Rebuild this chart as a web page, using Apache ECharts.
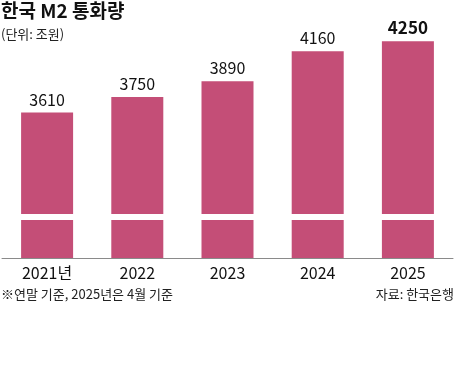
<!DOCTYPE html>
<html><head><meta charset="utf-8">
<script src="https://cdn.jsdelivr.net/npm/echarts@6/dist/echarts.min.js"></script>
<style>html,body{margin:0;padding:0;background:#fff}#c{width:456px;height:367px}</style>
</head><body><div id="c"></div>
<script>
var categories = ['2021년', '2022', '2023', '2024', '2025'];
var values = [3610, 3750, 3890, 4160, 4250];
var breakValue = 2673;
var title = '한국 M2 통화량';
var unit = '(단위: 조원)';
var note = '※연말 기준, 2025년은 4월 기준';
var source = '자료: 한국은행';

var FONT = '"Noto Sans CJK KR", "Noto Sans", sans-serif';
var chart = echarts.init(document.getElementById('c'));
chart.setOption({
  animation: false,
  textStyle: {fontFamily: FONT},
  title: [
    {text: title, left: 1, top: 1, padding: 0, textStyle: {fontSize: 19, fontWeight: 'bold', color: '#111', fontFamily: FONT}},
    {text: unit, left: 1, top: 28, padding: 0, textStyle: {fontSize: 13, fontWeight: 'normal', color: '#222', fontFamily: FONT}},
    {text: note, left: 1, top: 288, padding: 0, textStyle: {fontSize: 13, fontWeight: 'normal', color: '#222', fontFamily: FONT}},
    {text: source, right: 2, top: 288, padding: 0, textStyle: {fontSize: 13, fontWeight: 'normal', color: '#222', fontFamily: FONT}}
  ],
  grid: {left: 2, right: 3, top: 8, bottom: 109, containLabel: false},
  xAxis: {
    type: 'category', data: categories,
    axisLine: {show: true, lineStyle: {color: '#8a8a8a', width: 1}},
    axisTick: {show: false},
    axisLabel: {fontSize: 16, color: '#111', margin: 7, fontFamily: FONT}
  },
  yAxis: {type: 'value', min: 2300, max: 4550, show: false, splitLine: {show: false}},
  series: [{
    type: 'bar', data: values, barWidth: 52,
    itemStyle: {color: '#C44E77'},
    label: {
      show: true, position: 'top', distance: 5, fontSize: 16, color: '#111', fontFamily: FONT,
      formatter: function (p) { return p.dataIndex === values.length - 1 ? '{b|' + p.value + '}' : String(p.value); },
      rich: {b: {fontSize: 17, fontWeight: 'bold', color: '#111', fontFamily: FONT}}
    },
    markLine: {
      silent: true, symbol: 'none', label: {show: false},
      lineStyle: {color: '#fff', width: 6, type: 'solid'},
      data: [{yAxis: breakValue}]
    }
  }]
});
</script></body></html>
